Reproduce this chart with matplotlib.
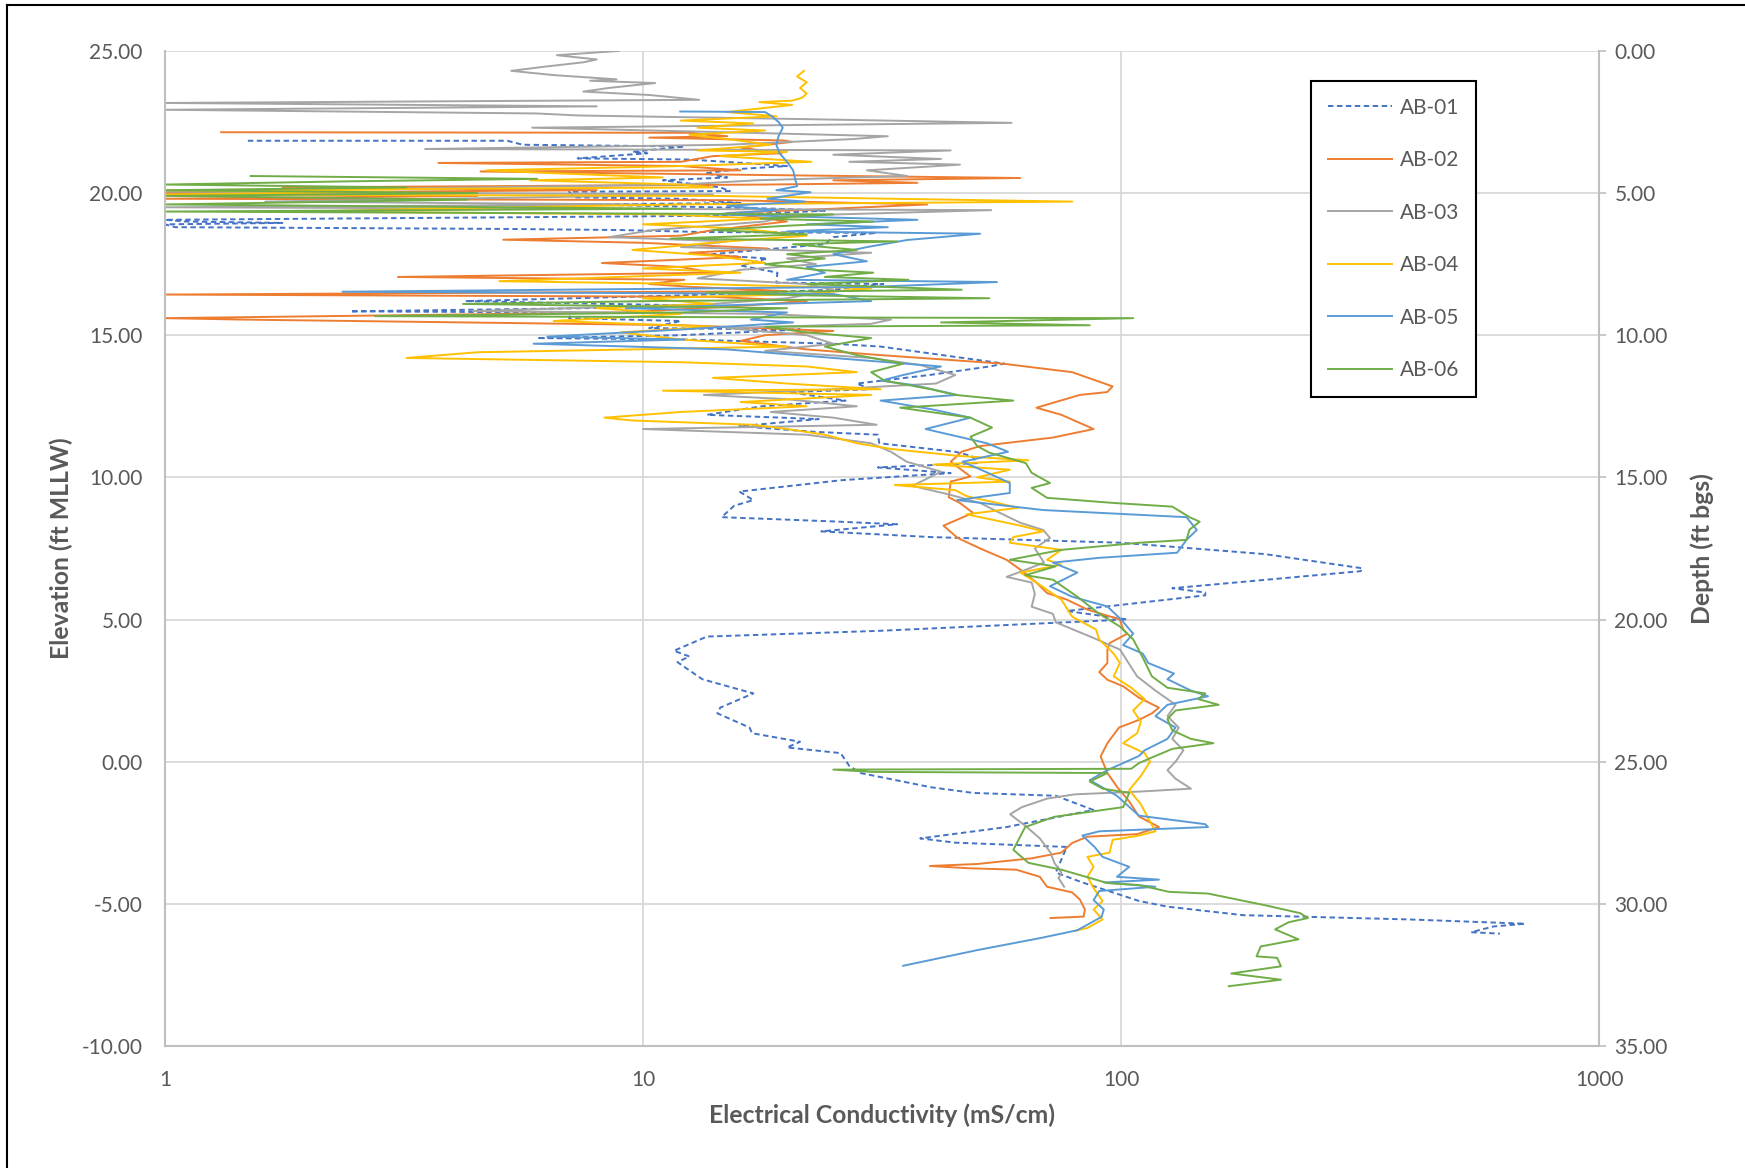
import matplotlib
matplotlib.use("Agg")
import matplotlib.pyplot as plt
from matplotlib.lines import Line2D
from matplotlib.ticker import FixedLocator, FormatStrFormatter, NullLocator, FixedFormatter

plt.rcParams['font.family'] = ['Lato', 'DejaVu Sans']

# (elevation ft MLLW, electrical conductivity mS/cm) logged top to bottom
ab01 = [(21.84, 1.49), (21.84, 5.2), (21.70, 5.6), (21.64, 12.2), (21.45, 9.5), (21.40, 10.2),
        (21.22, 7.3), (21.18, 12.5), (21.05, 16.5), (20.95, 20.0), (20.85, 16.0), (20.70, 13.5),
        (20.55, 15.0), (20.45, 11.0), (20.20, 14.5), (20.07, 15.2), (20.05, 7.0), (19.85, 7.2),
        (19.80, 12.0), (19.65, 16.0), (19.60, 7.5), (19.45, 19.0), (19.38, 24.0), (19.20, 14.0),
        (19.06, 1.0), (19.00, 1.1), (18.95, 1.76), (18.90, 1.0), (18.80, 1.05), (18.74, 5.0),
        (18.70, 9.0), (18.63, 13.2), (18.60, 30.8), (18.45, 25.0), (18.20, 24.0), (17.90, 15.0),
        (17.83, 13.6), (17.70, 18.2), (17.45, 16.0), (17.20, 19.1), (16.85, 19.0), (16.80, 31.8),
        (16.60, 25.0), (16.40, 12.0), (16.20, 4.25), (16.05, 12.2), (15.95, 7.5), (15.84, 2.44),
        (15.80, 7.1), (15.60, 7.0), (15.50, 12.0), (15.25, 10.3), (15.20, 21.3), (15.00, 12.0),
        (14.90, 6.0), (14.85, 12.2), (14.70, 25.0), (14.60, 31.4), (14.00, 57.0), (13.90, 53.0),
        (13.60, 39.7), (13.30, 28.0), (13.10, 30.0), (13.00, 20.2), (12.70, 26.5), (12.50, 17.7),
        (12.20, 13.6), (12.05, 23.3), (11.80, 15.9), (11.60, 22.9), (11.50, 31.0), (11.20, 31.2),
        (10.90, 45.0), (10.75, 48.7), (10.50, 50.0), (10.35, 31.0), (10.15, 44.0), (9.90, 26.0),
        (9.50, 15.9), (9.20, 17.0), (9.00, 15.5), (8.60, 14.6), (8.45, 25.0), (8.35, 34.0),
        (8.10, 23.6), (7.90, 40.0), (7.70, 100), (7.30, 200), (6.80, 320), (6.70, 317),
        (6.10, 128), (5.95, 150), (5.85, 150), (5.30, 77), (5.00, 103), (4.60, 31),
        (4.40, 13.6), (3.90, 11.6), (3.70, 12.5), (3.50, 11.8), (2.90, 13.3), (2.40, 17.0),
        (1.90, 14.5), (1.70, 14.3), (1.20, 16.7), (1.00, 16.9), (0.70, 21.3), (0.50, 20.0),
        (0.30, 25.9), (-0.15, 27.0), (-0.40, 28.5), (-0.90, 40.0), (-1.10, 49.0), (-1.20, 73.0),
        (-1.70, 87.5), (-2.30, 57.6), (-2.70, 38.0), (-2.85, 45.0), (-3.00, 77.0), (-3.90, 73.0),
        (-4.25, 83.0), (-4.90, 109), (-5.10, 125), (-5.40, 180), (-5.55, 400), (-5.70, 700),
        (-5.80, 600), (-6.00, 540), (-6.05, 620)]

ab02 = [(22.14, 1.31), (22.12, 12.5), (22.0, 15.0), (21.95, 10.3), (21.85, 19.7), (21.8, 20.5),
        (21.6, 16.0), (21.4, 19.5), (21.3, 14.0), (21.1, 12.0), (21.06, 3.73), (20.95, 12.0),
        (20.8, 16.0), (20.76, 4.57), (20.65, 15.0), (20.53, 61.5), (20.45, 25.0), (20.36, 37.5),
        (20.3, 18.2), (20.2, 1.76), (20.1, 8.0), (20.0, 1.0), (19.9, 4.5), (19.8, 1.0),
        (19.75, 15.0), (19.6, 39.3), (19.45, 25.0), (19.3, 15.0), (19.0, 20.0), (18.7, 14.0),
        (18.5, 12.0), (18.36, 5.1), (18.25, 10.0), (18.05, 18.2), (17.9, 12.5), (17.75, 16.0),
        (17.54, 8.2), (17.4, 12.0), (17.2, 14.0), (17.05, 3.07), (16.95, 12.2), (16.8, 10.3),
        (16.7, 12.6), (16.55, 20.0), (16.43, 1.0), (16.35, 14.0), (16.2, 22.0), (16.0, 15.0),
        (15.8, 9.0), (15.6, 1.0), (15.55, 1.45), (15.35, 12.2), (15.15, 25.0), (15.0, 18.0),
        (14.8, 16.0), (14.5, 22.0), (14.3, 31.4), (14.0, 56.5), (13.7, 79.0), (13.2, 96.0),
        (13.0, 93.5), (12.9, 82.0), (12.45, 66.5), (12.2, 75.0), (11.7, 87.6), (11.4, 72.0),
        (11.1, 50.7), (10.9, 46.4), (10.55, 44.0), (10.03, 48.4), (9.85, 44.0), (9.3, 43.6),
        (9.1, 46.0), (8.75, 49.0), (8.3, 42.5), (7.87, 45.5), (7.5, 50.7), (7.1, 57.6),
        (6.75, 61.6), (6.3, 66.5), (5.93, 70.0), (5.7, 77.0), (5.35, 85.0), (5.0, 99.4),
        (4.65, 101), (4.5, 103), (4.17, 94.6), (3.94, 93.6), (3.47, 93.6), (3.15, 90.0),
        (2.88, 93.6), (2.65, 101), (2.25, 109), (1.9, 120), (1.7, 116), (1.47, 109),
        (1.2, 99), (0.65, 93.6), (0.18, 90.6), (-0.4, 93.6), (-0.88, 98), (-1.4, 104),
        (-1.93, 109), (-2.3, 120), (-2.55, 108), (-2.64, 85), (-2.86, 79), (-3.2, 75),
        (-3.4, 65), (-3.6, 50), (-3.67, 39.8), (-3.75, 48), (-3.8, 60.3), (-4.05, 67.6),
        (-4.4, 70), (-4.6, 79), (-4.85, 82), (-5.2, 84), (-5.45, 83.5), (-5.5, 71.2)]

ab03 = [(25.0, 8.9), (24.85, 6.6), (24.7, 8.0), (24.6, 7.5), (24.45, 6.25), (24.3, 5.3),
        (24.15, 6.5), (24.0, 8.8), (23.95, 7.75), (23.87, 10.6), (23.7, 8.5), (23.57, 7.5),
        (23.45, 10.3), (23.28, 13.1), (23.17, 1.0), (23.05, 8.0), (22.93, 1.0), (22.8, 6.0),
        (22.73, 7.3), (22.6, 22.0), (22.47, 59.0), (22.3, 5.86), (22.15, 14.0), (22.0, 32.5),
        (21.9, 27.5), (21.7, 15.0), (21.55, 3.5), (21.5, 44.0), (21.35, 25.0), (21.2, 42.0),
        (21.1, 27.0), (21.0, 46.0), (20.8, 29.4), (20.6, 35.7), (20.45, 17.3), (20.3, 12.0),
        (20.05, 1.0), (19.95, 14.0), (19.7, 1.62), (19.6, 10.0), (19.5, 1.0), (19.4, 53.5),
        (19.2, 20.0), (19.0, 18.0), (18.7, 10.5), (18.45, 8.5), (18.3, 15.0), (18.1, 12.0),
        (17.9, 30.0), (17.7, 20.0), (17.5, 23.0), (17.3, 16.0), (17.0, 13.0), (16.8, 22.0),
        (16.6, 25.0), (16.3, 20.0), (16.1, 14.0), (15.85, 4.4), (15.75, 18.0), (15.55, 33.0),
        (15.4, 30.0), (15.25, 15.0), (15.0, 22.0), (14.7, 25.0), (14.45, 18.0), (14.2, 30.0),
        (13.95, 38.0), (13.6, 45.0), (13.3, 41.0), (13.1, 25.0), (12.9, 13.4), (12.75, 20.0),
        (12.5, 28.0), (12.3, 18.5), (12.1, 25.0), (11.85, 30.8), (11.7, 10.0), (11.5, 22.0),
        (11.2, 30.0), (10.9, 33.0), (10.55, 35.6), (10.2, 42.0), (9.7, 36.6), (9.4, 43.6),
        (9.1, 50.7), (8.8, 55.0), (8.4, 61.6), (8.15, 68.7), (7.87, 71.0), (7.5, 66.0),
        (7.0, 69.0), (6.7, 62.0), (6.5, 57.6), (6.3, 65.0), (5.9, 66.0), (5.45, 65.0),
        (5.2, 72.0), (4.9, 73.0), (4.35, 87.6), (3.94, 99.5), (3.0, 108), (2.5, 118),
        (2.0, 130), (1.6, 125), (1.2, 132), (0.8, 128), (0.4, 135), (0.0, 130),
        (-0.3, 125), (-0.6, 130), (-0.95, 140), (-1.05, 110), (-1.15, 80), (-1.3, 70),
        (-1.6, 62), (-1.85, 58.6), (-2.3, 63.5), (-2.7, 67.6), (-3.2, 71.2), (-3.56, 72.5),
        (-3.9, 75), (-4.1, 74), (-4.4, 76)]

ab04 = [(24.3, 21.7), (24.1, 21.0), (23.9, 22.0), (23.7, 21.3), (23.5, 22.0), (23.35, 21.5),
        (23.25, 20.5), (23.2, 17.5), (23.1, 20.5), (22.95, 17.0), (22.85, 15.0), (22.7, 19.0),
        (22.55, 12.0), (22.45, 17.0), (22.3, 13.0), (22.2, 18.0), (22.05, 12.5), (21.9, 15.0),
        (21.7, 18.5), (21.5, 13.0), (21.45, 20.0), (21.3, 14.5), (21.1, 22.5), (20.95, 12.0),
        (20.8, 4.7), (20.7, 6.5), (20.55, 11.0), (20.45, 5.8), (20.3, 12.0), (20.2, 14.0),
        (20.1, 1.0), (20.05, 3.0), (19.95, 1.0), (19.9, 14.0), (19.7, 79.0), (19.6, 12.0),
        (19.45, 3.5), (19.35, 2.0), (19.25, 11.0), (19.1, 18.0), (18.9, 10.0), (18.75, 16.0),
        (18.5, 22.0), (18.3, 15.0), (18.0, 9.5), (17.8, 14.0), (17.55, 18.0), (17.35, 10.0),
        (17.2, 16.0), (16.9, 5.0), (16.8, 13.0), (16.65, 30.0), (16.45, 22.0), (16.3, 10.0),
        (16.1, 14.0), (15.95, 8.0), (15.75, 12.0), (15.5, 6.5), (15.3, 14.0), (15.1, 9.0),
        (14.85, 12.0), (14.6, 20.0), (14.4, 4.5), (14.2, 3.2), (14.05, 12.0), (13.9, 22.0),
        (13.7, 28.0), (13.5, 14.0), (13.3, 20.0), (13.1, 31.4), (13.05, 11.0), (12.9, 30.0),
        (12.65, 16.0), (12.5, 22.0), (12.3, 12.0), (12.1, 8.3), (12.0, 9.5), (11.85, 17.0),
        (11.7, 20.0), (11.5, 24.0), (11.2, 28.0), (11.0, 33.0), (10.75, 46.0), (10.6, 64.0),
        (10.45, 40.5), (10.27, 58.5), (10.0, 50.0), (9.85, 58.5), (9.73, 33.6), (9.55, 45.0),
        (9.34, 47.5), (8.93, 61.0), (8.7, 47.5), (8.3, 61.6), (8.1, 68.7), (7.9, 59.5),
        (7.7, 58.5), (7.45, 75.0), (7.1, 70.0), (6.93, 75.0), (6.65, 61.6), (6.3, 66.5),
        (5.7, 75.0), (5.1, 79.0), (4.65, 88.6), (4.3, 90.0), (3.8, 96.5), (3.47, 99.4),
        (3.0, 96.5), (2.6, 105), (2.2, 112), (1.8, 106), (1.4, 110), (1.0, 108),
        (0.65, 101), (0.3, 112), (0.0, 115), (-0.5, 110), (-1.0, 104), (-1.5, 110),
        (-2.0, 114), (-2.45, 118), (-2.6, 109), (-2.75, 96), (-3.2, 94.6), (-3.35, 85),
        (-3.7, 87.6), (-4.05, 85), (-4.5, 88), (-4.9, 91.5), (-5.2, 87.6), (-5.55, 91.5),
        (-5.85, 85), (-5.95, 80)]

ab05 = [(22.87, 11.96), (22.85, 18.0), (22.7, 18.6), (22.5, 19.2), (22.3, 19.6), (22.0, 19.2),
        (21.7, 19.0), (21.4, 19.3), (21.1, 20.0), (20.8, 20.6), (20.5, 20.8), (20.24, 21.0),
        (20.1, 19.0), (20.03, 22.4), (19.8, 18.2), (19.7, 21.8), (19.55, 15.0), (19.4, 19.0),
        (19.25, 14.0), (19.06, 37.5), (18.9, 22.0), (18.8, 32.5), (18.65, 20.0), (18.57, 50.7),
        (18.35, 35.7), (18.1, 29.4), (17.85, 25.0), (17.6, 29.4), (17.4, 22.0), (17.2, 24.0),
        (16.95, 20.0), (16.87, 55.0), (16.7, 30.0), (16.53, 2.35), (16.45, 25.0), (16.2, 30.0),
        (15.95, 9.2), (15.8, 20.0), (15.55, 16.8), (15.45, 20.6), (15.2, 12.0), (14.95, 6.3),
        (14.85, 12.2), (14.7, 5.9), (14.5, 15.0), (14.2, 25.0), (13.9, 42.0), (13.6, 35.0),
        (13.4, 31.4), (13.25, 36.7), (12.9, 45.4), (12.7, 31.4), (12.4, 40.0), (12.1, 48.4),
        (11.7, 39.0), (11.2, 52.4), (10.9, 58.0), (10.55, 46.6), (10.2, 52.0), (9.8, 58.5),
        (9.45, 58.5), (9.2, 45.4), (8.85, 68.7), (8.6, 137), (8.15, 144), (7.8, 137),
        (7.35, 131), (7.17, 90), (7.0, 72), (6.65, 81), (6.17, 71), (5.8, 79),
        (5.46, 93.6), (5.0, 100), (4.5, 106), (4.1, 101), (3.8, 111), (3.47, 114),
        (3.1, 129), (2.9, 125), (2.5, 140), (2.3, 152), (2.0, 125), (1.6, 118),
        (1.2, 130), (0.8, 125), (0.4, 112), (0.2, 109), (-0.3, 93.6), (-0.65, 86),
        (-1.2, 98), (-1.9, 109), (-2.2, 150), (-2.3, 152), (-2.45, 90), (-2.6, 83),
        (-3.0, 88), (-3.35, 91.5), (-3.7, 104), (-4.05, 98), (-4.15, 120), (-4.25, 92),
        (-4.4, 118), (-4.55, 90), (-4.87, 87.6), (-5.2, 92), (-5.46, 91), (-5.93, 81),
        (-6.2, 68), (-6.63, 50), (-7.18, 35)]

ab06 = [(20.6, 1.51), (20.5, 6.0), (20.41, 2.36), (20.3, 1.0), (20.2, 3.2), (20.1, 1.0),
        (20.0, 4.5), (19.9, 1.0), (19.77, 4.3), (19.6, 1.0), (19.45, 12.0), (19.35, 1.0),
        (19.25, 25.0), (19.1, 17.6), (19.0, 30.3), (18.85, 20.0), (18.7, 14.0), (18.55, 22.0),
        (18.4, 11.4), (18.3, 34.0), (18.2, 20.6), (18.0, 28.0), (17.85, 20.0), (17.7, 24.0),
        (17.5, 18.0), (17.3, 23.0), (17.2, 30.3), (17.05, 24.0), (16.95, 35.9), (16.8, 22.0),
        (16.6, 46.4), (16.5, 13.6), (16.4, 22.0), (16.3, 53.0), (16.2, 10.3), (16.1, 4.2),
        (15.95, 20.0), (15.8, 12.0), (15.67, 2.75), (15.62, 30.0), (15.6, 106), (15.45, 42.0),
        (15.35, 86.0), (15.3, 18.0), (15.1, 22.0), (14.9, 30.0), (14.6, 24.0), (14.3, 28.0),
        (14.0, 35.0), (13.7, 30.0), (13.4, 32.0), (13.1, 40.0), (12.9, 45.0), (12.7, 59.5),
        (12.45, 34.5), (12.1, 48.4), (11.75, 53.7), (11.43, 48.4), (11.1, 50.0), (10.87, 53.0),
        (10.5, 63.2), (10.16, 65.0), (9.8, 71.0), (9.63, 65.0), (9.28, 70.0), (9.1, 96.5),
        (8.97, 128), (8.6, 139), (8.44, 146), (8.16, 139), (7.8, 137), (7.7, 109),
        (7.45, 75), (7.1, 58.5), (6.87, 73), (6.56, 63), (6.4, 72), (5.8, 81),
        (5.2, 90), (4.75, 99.5), (4.3, 106), (3.66, 111), (3.0, 116), (2.6, 125),
        (2.4, 150), (2.2, 145), (2.0, 160), (1.8, 130), (1.5, 125), (1.1, 128),
        (0.8, 140), (0.65, 156), (0.45, 128), (0.2, 118), (-0.05, 109), (-0.25, 105),
        (-0.28, 25), (-0.36, 30), (-0.4, 93.6), (-0.7, 86), (-0.95, 91.5), (-1.1, 104),
        (-1.6, 101), (-1.94, 72.5), (-2.3, 63), (-3.1, 59.5), (-3.56, 64), (-3.8, 75),
        (-4.27, 93.6), (-4.34, 109), (-4.58, 126), (-4.64, 152), (-5.05, 200), (-5.33, 237),
        (-5.5, 246), (-5.65, 224), (-5.9, 210), (-6.25, 235), (-6.5, 196), (-6.85, 192),
        (-6.9, 212), (-7.2, 216), (-7.45, 170), (-7.67, 216), (-7.9, 168)]

series_names = ["AB-01", "AB-02", "AB-03", "AB-04", "AB-05", "AB-06"]
series_data = [ab01, ab02, ab03, ab04, ab05, ab06]
series_colors = ["#4472C4", "#ED7D31", "#A5A5A5", "#FFC000", "#5B9BD5", "#70AD47"]
series_styles = [(0, (2.8, 1.8)), "-", "-", "-", "-", "-"]

elev_ticks = [-10, -5, 0, 5, 10, 15, 20, 25]
depth_ticks = [0, 5, 10, 15, 20, 25, 30, 35]
ec_ticks = [1, 10, 100, 1000]

text_color = "#595959"
axis_color = "#BFBFBF"
fs = 15
label_fs = 17.8

fig = plt.figure(figsize=(17.45, 11.68), dpi=100)
ax = fig.add_axes([0.0946, 0.1045, 0.8218, 0.8519])

for name, pts, color, ls in zip(series_names, series_data, series_colors, series_styles):
    elev = [p[0] for p in pts]
    ec = [p[1] for p in pts]
    ax.plot(ec, elev, color=color, linestyle=ls, linewidth=1.4, label=name)

ax.set_xscale("log")
ax.set_xlim(1, 1000)
ax.set_ylim(-10, 25)
ax.xaxis.set_major_locator(FixedLocator(ec_ticks))
ax.xaxis.set_major_formatter(FixedFormatter([str(t) for t in ec_ticks]))
ax.xaxis.set_minor_locator(NullLocator())
ax.yaxis.set_major_locator(FixedLocator(elev_ticks))
ax.yaxis.set_major_formatter(FormatStrFormatter("%.2f"))

ax.grid(True, which="major", color="#D9D9D9", linewidth=1.3)
ax.set_axisbelow(True)
for side in ["top", "right"]:
    ax.spines[side].set_visible(False)
for side in ["left", "bottom"]:
    ax.spines[side].set_color(axis_color)
    ax.spines[side].set_linewidth(1.5)

ax.tick_params(axis="x", length=0, pad=17, labelsize=fs, labelcolor=text_color)
ax.tick_params(axis="y", length=0, pad=16, labelsize=fs, labelcolor=text_color)

ax.set_xlabel("Electrical Conductivity (mS/cm)", fontsize=label_fs, fontweight="bold", color=text_color)
ax.set_ylabel("Elevation (ft MLLW)", fontsize=label_fs, fontweight="bold", color=text_color)
ax.xaxis.set_label_coords(0.5, -0.058)
ax.yaxis.set_label_coords(-0.064, 0.5)

# secondary depth axis
ax2 = ax.twinx()
ax2.set_ylim(35, 0)
ax2.yaxis.set_major_locator(FixedLocator(depth_ticks))
ax2.yaxis.set_major_formatter(FormatStrFormatter("%.2f"))
for side in ["top", "left", "bottom"]:
    ax2.spines[side].set_visible(False)
ax2.spines["right"].set_color(axis_color)
ax2.spines["right"].set_linewidth(1.5)
ax2.tick_params(axis="y", length=5, width=1.2, color=axis_color, pad=6,
                labelsize=fs, labelcolor=text_color)
ax2.set_ylabel("Depth (ft bgs)", fontsize=label_fs, fontweight="bold", color=text_color)
ax2.yaxis.set_label_coords(1.0635, 0.5)

handles, labels = ax.get_legend_handles_labels()
leg = ax2.legend(handles, labels, loc="upper left", bbox_to_anchor=(0.7513, 0.9307),
                 bbox_transform=fig.transFigure, fontsize=fs, frameon=True, fancybox=False,
                 framealpha=1, edgecolor="black", handlelength=3.1, handletextpad=0.38,
                 labelspacing=1.56, borderpad=0.8, borderaxespad=0)
leg.get_frame().set_linewidth(1.5)
for t in leg.get_texts():
    t.set_color(text_color)

# chart border
fig.add_artist(Line2D([7 / 1745, 7 / 1745], [0, 1 - 5 / 1168], transform=fig.transFigure,
                      color="black", linewidth=1.5))
fig.add_artist(Line2D([7 / 1745, 1], [1 - 5 / 1168, 1 - 5 / 1168], transform=fig.transFigure,
                      color="black", linewidth=1.5))

fig.savefig("out.png", dpi=100)
